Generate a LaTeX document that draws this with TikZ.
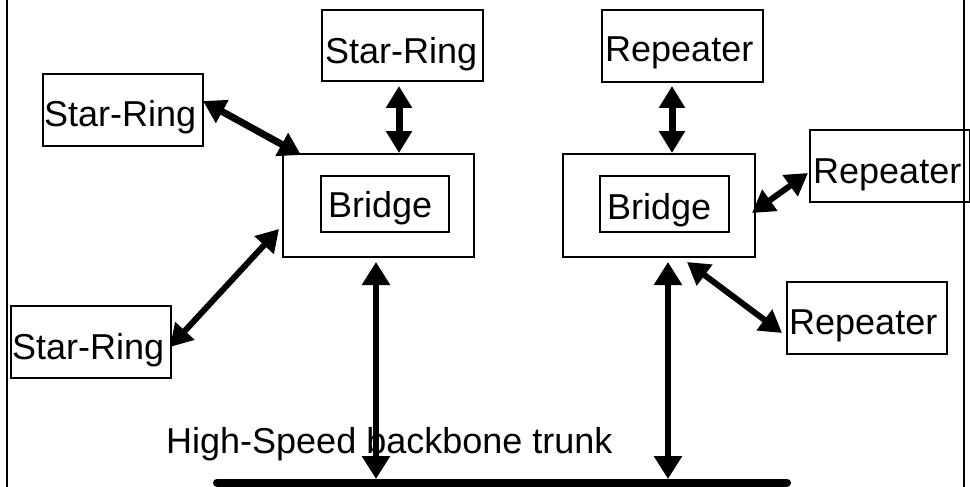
\documentclass[tikz,border=0pt]{standalone}
\usepackage{fontspec}
\setmainfont{Liberation Sans}
\usetikzlibrary{arrows.meta}
\begin{document}
\begin{tikzpicture}[x=1pt,y=-1pt,
  box/.style={draw=black,line width=2pt,rectangle,inner sep=0pt,outer sep=0pt},
  lbl/.style={anchor=base west,inner sep=0pt,font=\fontsize{36}{43}\selectfont},
  link/.style={line width=7pt,{Triangle[width=25pt,length=22pt]}-{Triangle[width=25pt,length=22pt]}},
  biglink/.style={line width=6pt,{Triangle[width=27pt,length=23pt]}-{Triangle[width=27pt,length=23pt]}},
  frameline/.style={line width=2.5pt}]
\useasboundingbox (0,0) rectangle (970,487);
\begin{scope}
\clip (0,0) rectangle (970,487);
% frame
\coordinate (fl1) at (7,0); \coordinate (fl2) at (7,487);
\coordinate (fr1) at (964,0); \coordinate (fr2) at (964,487);
\draw[frameline] (fl1) -- (fl2);
\draw[frameline] (fr1) -- (fr2);
% boxes
\node[box,minimum width=161pt,minimum height=71pt] (srT) at (402.5,45.5) {};
\node[box,minimum width=160pt,minimum height=72pt] (srL) at (123,110) {};
\node[box,minimum width=191pt,minimum height=103pt] (brL) at (378.5,205.5) {};
\node[box,minimum width=128pt,minimum height=56pt] (brLi) at (385,204) {};
\node[box,minimum width=160pt,minimum height=72pt] (srB) at (91,342) {};
\node[box,minimum width=161pt,minimum height=72pt] (rpT) at (682.5,46) {};
\node[box,minimum width=192pt,minimum height=103pt] (brR) at (659,205.5) {};
\node[box,minimum width=129pt,minimum height=56pt] (brRi) at (664.5,204) {};
\node[box,minimum width=160pt,minimum height=72pt] (rpR) at (890,166) {};
\node[box,minimum width=160pt,minimum height=72pt] (rpB) at (867,318) {};
% labels
\node[lbl] (tsrT) at (325,63.5) {Star-Ring};
\node[lbl] (tsrL) at (44,127) {Star-Ring};
\node[lbl] (tbrL) at (328,217) {Bridge};
\node[lbl] (tsrB) at (12,359) {Star-Ring};
\node[lbl] (trpT) at (605,62) {Repeater};
\node[lbl] (tbrR) at (607,219) {Bridge};
\node[lbl] (trpR) at (813,183) {Repeater};
\node[lbl] (trpB) at (789,334) {Repeater};
\node[lbl] (ttrunk) at (166,453) {High-Speed backbone trunk};
% trunk
\coordinate (tkL) at (217,482.5);
\coordinate (tkR) at (787,482.5);
\draw[line width=8pt,line cap=round] (tkL) -- (tkR);
% trunk attachment points
\coordinate (tkA) at (376,479);
\coordinate (tkB) at (668,479);
% connectors
\draw[link] ([yshift=-5pt]srT.south -| 399,0) -- ([yshift=1pt]brL.north -| 399,0);
\draw[link] ([yshift=-4pt]rpT.south -| 672,0) -- ([yshift=1pt]brR.north -| 672,0);
\draw[link] (srL.east |- 0,101) -- (301,155);
\draw[link,line width=6pt] (170,347) -- (279,229);
\draw[link,line width=6pt] (752,213) -- (808,173);
\draw[link,line width=6pt] (687,262) -- (782,333);
\draw[biglink] ([yshift=-5pt]brL.south -| tkA) -- (tkA);
\draw[biglink] ([yshift=-5pt]brR.south -| tkB) -- (tkB);
\end{scope}
\end{tikzpicture}
\end{document}
